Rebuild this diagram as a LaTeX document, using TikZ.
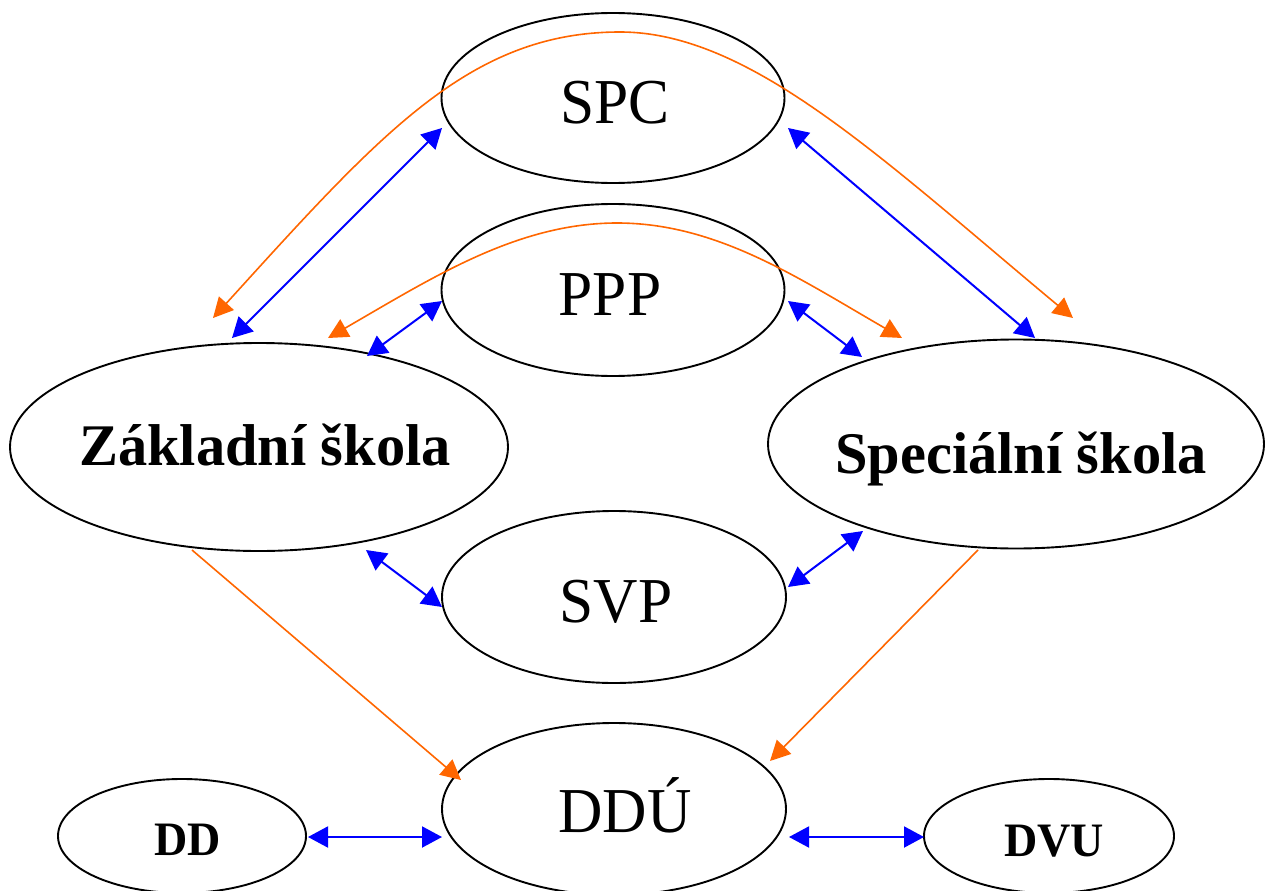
\documentclass[tikz,border=0pt]{standalone}
\usepackage{fontspec}
\setmainfont{Liberation Serif}
\newfontfamily\labfont[FakeStretch=0.96]{Liberation Serif}
\newfontfamily\boldlabfont[FakeStretch=0.99]{Liberation Serif}
\usetikzlibrary{shapes.geometric,arrows.meta}
\definecolor{edgeblue}{RGB}{0,0,255}
\definecolor{edgeorange}{RGB}{255,102,0}
\begin{document}
\begin{tikzpicture}[x=1pt,y=-1pt,
  oval/.style={draw, ellipse, line width=1.9pt, inner sep=0pt, outer sep=0pt},
  lblreg/.style={anchor=base, inner sep=0pt, font=\labfont\fontsize{64}{70}\selectfont},
  lblbig/.style={anchor=base, inner sep=0pt, font=\boldlabfont\bfseries\fontsize{59}{66}\selectfont},
  lblsmall/.style={anchor=base, inner sep=0pt, font=\labfont\bfseries\fontsize{48}{54}\selectfont},
  bluelink/.style={draw=edgeblue, line width=2pt,
    {Triangle[length=20pt,width=21pt]}-{Triangle[length=20pt,width=21pt]}},
  orangeboth/.style={draw=edgeorange, line width=1.6pt,
    {Triangle[length=20pt,width=20pt]}-{Triangle[length=20pt,width=20pt]}},
  orangeto/.style={draw=edgeorange, line width=1.6pt,
    -{Triangle[length=20pt,width=20pt]}}
]
\useasboundingbox (0,0) rectangle (1272,891);

% ellipses
\node[oval, minimum width=343pt, minimum height=170pt] (sp)  at (613,98)  {};
\node[oval, minimum width=343pt, minimum height=172pt] (pp)  at (613,290) {};
\node[oval, minimum width=498pt, minimum height=208pt] (zs)  at (259,447) {};
\node[oval, minimum width=496pt, minimum height=209pt] (ss)  at (1016,444) {};
\node[oval, minimum width=344pt, minimum height=172pt] (sv)  at (614,597) {};
\node[oval, minimum width=344pt, minimum height=172pt] (ddu) at (614,809) {};
\node[oval, minimum width=248pt, minimum height=114pt] (dd)  at (182,836) {};
\node[oval, minimum width=250pt, minimum height=114pt] (dvu) at (1049,836) {};

% labels
\node[lblreg]   (spT)  at (615,123) {SPC};
\node[lblreg]   (ppT)  at (610,315) {PPP};
\node[lblbig]   (zsT)  at (265,465) {Základní škola};
\node[lblbig]   (ssT)  at (1021,473) {Speciální škola};
\node[lblreg]   (svT)  at (616,622) {SVP};
\node[lblreg]   (dduT) at (625,832) {DDÚ};
\node[lblsmall] (ddT)  at (188,855) {DD};
\node[lblsmall] (dvuT) at (1054,856) {DVU};

% blue two-way links
\draw[bluelink] ([shift={(-171,30)}]sp.center) -- ([shift={(-27,-109)}]zs.center);
\draw[bluelink] ([shift={(-171,11)}]pp.center) -- ([shift={(108,-91)}]zs.center);
\draw[bluelink] ([shift={(175,30)}]sp.center) -- ([shift={(19,-106)}]ss.center);
\draw[bluelink] ([shift={(175,11)}]pp.center) -- ([shift={(-154,-87)}]ss.center);
\draw[bluelink] ([shift={(107,103)}]zs.center) -- ([shift={(-172,10)}]sv.center);
\draw[bluelink] ([shift={(174,-10)}]sv.center) -- ([shift={(-153,87)}]ss.center);
\draw[bluelink] ([shift={(126,1)}]dd.center) -- ([shift={(-172,28)}]ddu.center);
\draw[bluelink] ([shift={(175,28)}]ddu.center) -- ([shift={(-125,1)}]dvu.center);

% orange curves over SPC and PPP
\draw[orangeboth] ([shift={(-46,-129)}]zs.center)
  .. controls (381,133) and (470,32) .. (620,32)
  .. controls (750,32) and (881,158) .. ([shift={(57,-126)}]ss.center);
\draw[orangeboth] ([shift={(69,-109)}]zs.center)
  .. controls (432,278) and (517,223) .. (617,223)
  .. controls (717,223) and (798,278) .. ([shift={(-114,-106)}]ss.center);

% orange links to DDU
\draw[orangeto] ([shift={(-67,103)}]zs.center) -- ([shift={(-153,-29)}]ddu.center);
\draw[orangeto] ([shift={(-38,106)}]ss.center) -- ([shift={(156,-48)}]ddu.center);
\end{tikzpicture}
\end{document}
